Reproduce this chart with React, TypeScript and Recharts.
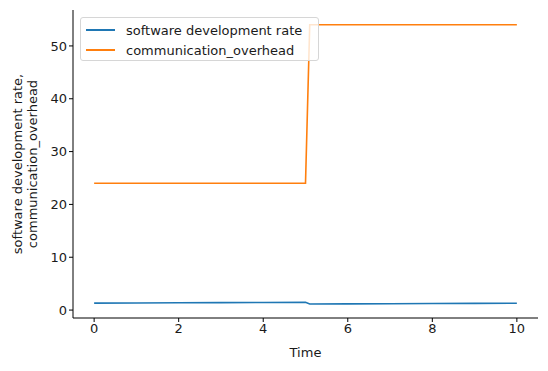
import { LineChart, Line, XAxis, YAxis, Legend } from 'recharts'

const TIME = [0, 1, 2, 3, 4, 5, 5.1, 6, 7, 8, 9, 10]
const DEV_RATE = [1.32, 1.35, 1.38, 1.41, 1.44, 1.47, 1.15, 1.18, 1.21, 1.24, 1.27, 1.3]
const COMM_OVERHEAD = [24, 24, 24, 24, 24, 24, 54, 54, 54, 54, 54, 54]
const X_TICKS = [0, 2, 4, 6, 8, 10]
const Y_TICKS = [0, 10, 20, 30, 40, 50]

const SERIES = [
  { key: 'dev', label: 'software development rate', color: '#1f77b4' },
  { key: 'comm', label: 'communication_overhead', color: '#ff7f0e' },
] as const

const data = TIME.map((t, i) => ({ t, dev: DEV_RATE[i], comm: COMM_OVERHEAD[i] }))

const FONT = 'DejaVu Sans, sans-serif'
const tick = { fontSize: 13, fill: '#1a1a1a', fontFamily: FONT }

function LegendBox() {
  return (
    <div
      style={{
        position: 'absolute',
        left: 80,
        top: 17,
        width: 239,
        height: 44,
        background: 'rgba(255,255,255,0.8)',
        border: '1px solid #d6d6d6',
        borderRadius: 3,
        fontFamily: FONT,
        fontSize: 13,
        color: '#1a1a1a',
        boxSizing: 'border-box',
      }}
    >
      {SERIES.map(({ key, label, color }, i) => (
        <div
          key={key}
          style={{ position: 'absolute', left: 5, top: 3 + i * 20, display: 'flex', alignItems: 'center', height: 18 }}
        >
          <span style={{ display: 'inline-block', width: 29, height: 2, background: color, marginRight: 11 }} />
          <span style={{ whiteSpace: 'nowrap' }}>{label}</span>
        </div>
      ))}
    </div>
  )
}

function YLabel({ viewBox }: any) {
  const cy = viewBox.y + viewBox.height / 2
  return (
    <text transform={`rotate(-90, 0, ${cy})`} fontFamily={FONT} fontSize={13} fill="#1a1a1a" textAnchor="middle">
      <tspan x={0} y={cy + 22}>software development rate,</tspan>
      <tspan x={0} y={cy + 37}>communication_overhead</tspan>
    </text>
  )
}

export default function App() {
  return (
    <div style={{ position: 'absolute', left: 0, top: 0, width: 548, height: 371, background: '#fff' }}>
      <LineChart width={548} height={371} data={data} margin={{ top: 10, right: 10, bottom: 0, left: 0 }}>
        <XAxis
          dataKey="t"
          type="number"
          domain={[-0.5, 10.5]}
          ticks={X_TICKS}
          tick={tick}
          tickSize={4}
          height={53}
          stroke="#000"
          tickLine={{ stroke: '#000' }}
          label={{ value: 'Time', position: 'insideBottom', offset: 14, fontSize: 13, fill: '#1a1a1a', fontFamily: FONT }}
        />
        <YAxis
          type="number"
          domain={[-1.5, 56.8]}
          ticks={Y_TICKS}
          tick={tick}
          tickSize={4}
          width={73}
          stroke="#000"
          tickLine={{ stroke: '#000' }}
          label={<YLabel />}
        />
        <Legend content={<LegendBox />} wrapperStyle={{ position: 'absolute', left: 0, top: 0 }} />
        {SERIES.map(({ key, label, color }) => (
          <Line
            key={key}
            type="linear"
            dataKey={key}
            name={label}
            stroke={color}
            strokeWidth={1.6}
            dot={false}
            isAnimationActive={false}
          />
        ))}
      </LineChart>
    </div>
  )
}
